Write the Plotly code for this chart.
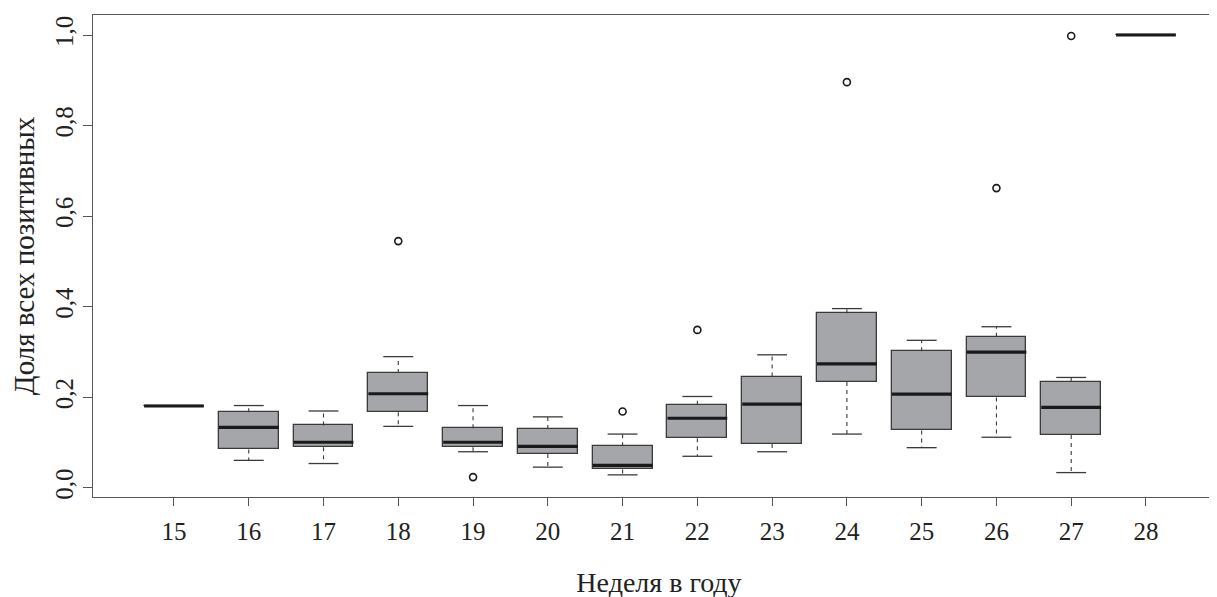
import plotly.graph_objects as go

weeks = [15, 16, 17, 18, 19, 20, 21, 22, 23, 24, 25, 26, 27, 28]
lower_whisker = [0.181, 0.061, 0.054, 0.136, 0.080, 0.046, 0.029, 0.070, 0.080, 0.119, 0.089, 0.112, 0.034, 1.0]
q1 = [0.181, 0.085, 0.090, 0.167, 0.090, 0.075, 0.041, 0.110, 0.097, 0.234, 0.127, 0.200, 0.117, 1.0]
median = [0.181, 0.134, 0.101, 0.208, 0.101, 0.092, 0.050, 0.154, 0.185, 0.274, 0.207, 0.300, 0.178, 1.0]
q3 = [0.181, 0.167, 0.138, 0.254, 0.132, 0.130, 0.092, 0.184, 0.246, 0.386, 0.302, 0.334, 0.234, 1.0]
upper_whisker = [0.181, 0.182, 0.170, 0.290, 0.182, 0.157, 0.119, 0.202, 0.294, 0.396, 0.326, 0.356, 0.244, 1.0]
outlier_weeks = [18, 19, 21, 22, 24, 26, 27]
outlier_values = [0.545, 0.024, 0.169, 0.349, 0.896, 0.662, 0.998]

y_tick_vals = [0.0, 0.2, 0.4, 0.6, 0.8, 1.0]
y_tick_text = ["0,0", "0,2", "0,4", "0,6", "0,8", "1,0"]
x_title = "Неделя в году"
y_title = "Доля всех позитивных"

box_w = 0.8
cap_w = 0.4
fill = "#a5a6aa"
edge = "#3a3a3a"
font_family = "Liberation Serif, DejaVu Serif, serif"

fig = go.Figure()

# boxes
fig.add_trace(go.Bar(
    x=weeks, y=[b - a for a, b in zip(q1, q3)], base=q1, width=box_w,
    marker=dict(color=fill, line=dict(color=edge, width=1.3)),
    showlegend=False, hoverinfo="skip"))

# whiskers (dashed) and caps
wx, wy, cx, cy = [], [], [], []
for w, lo, a, b, hi in zip(weeks, lower_whisker, q1, q3, upper_whisker):
    if hi > b:
        wx += [w, w, None]; wy += [b, hi, None]
        cx += [w - cap_w / 2, w + cap_w / 2, None]; cy += [hi, hi, None]
    if lo < a:
        wx += [w, w, None]; wy += [a, lo, None]
        cx += [w - cap_w / 2, w + cap_w / 2, None]; cy += [lo, lo, None]
fig.add_trace(go.Scatter(x=wx, y=wy, mode="lines",
                         line=dict(color=edge, width=1.1, dash="4px,4px"),
                         showlegend=False, hoverinfo="skip"))
fig.add_trace(go.Scatter(x=cx, y=cy, mode="lines",
                         line=dict(color=edge, width=1.3),
                         showlegend=False, hoverinfo="skip"))

# medians
mx, my = [], []
for w, m in zip(weeks, median):
    mx += [w - box_w / 2, w + box_w / 2, None]; my += [m, m, None]
fig.add_trace(go.Scatter(x=mx, y=my, mode="lines",
                         line=dict(color="#1a1a1a", width=3.2),
                         showlegend=False, hoverinfo="skip"))

# outliers
fig.add_trace(go.Scatter(x=outlier_weeks, y=outlier_values, mode="markers",
                         marker=dict(symbol="circle-open", size=7,
                                     color="#1a1a1a", line=dict(width=1.6)),
                         showlegend=False, hoverinfo="skip"))

fig.update_layout(
    width=1217, height=597,
    margin=dict(l=85, r=0, t=7, b=108),
    plot_bgcolor="white", paper_bgcolor="white",
    font=dict(family=font_family, size=25, color="#222"),
    bargap=0,
)
fig.update_xaxes(
    range=[13.917, 29.057], tickmode="array", tickvals=weeks,
    ticktext=[str(w) for w in weeks], automargin=False,
    showline=True, mirror=True, linecolor="#555", linewidth=1.2,
    ticks="outside", ticklen=8, tickcolor="#555", showgrid=False, zeroline=False,
    ticklabelstandoff=4,
    title=dict(text=x_title, standoff=28, font=dict(size=28)),
    tickfont=dict(size=25),
)
fig.update_yaxes(
    range=[-0.0199, 1.0442], tickmode="array", tickvals=y_tick_vals,
    ticktext=y_tick_text, tickangle=-90, automargin=False,
    showline=True, mirror=True, linecolor="#555", linewidth=1.2,
    ticks="outside", ticklen=9, tickcolor="#555", showgrid=False, zeroline=False,
    title=dict(text=y_title, standoff=15, font=dict(size=29)),
    tickfont=dict(size=25),
)

fig.write_html("out.html")
